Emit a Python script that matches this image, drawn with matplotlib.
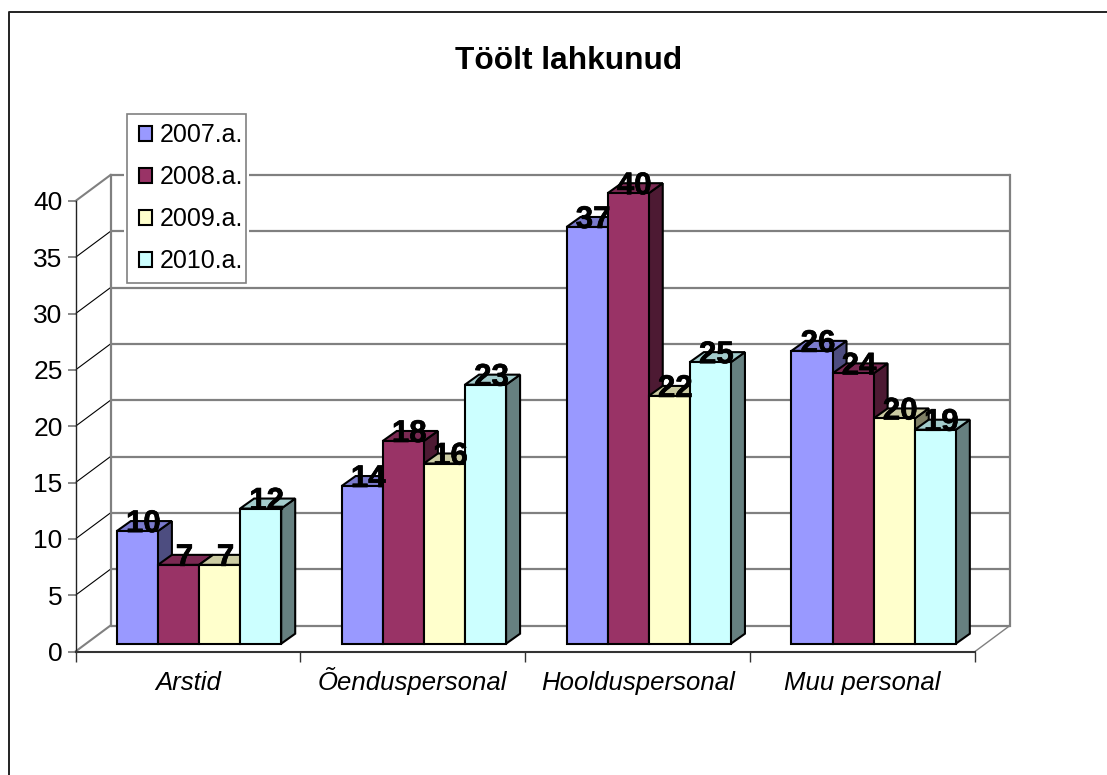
import matplotlib
matplotlib.use("Agg")
import matplotlib.pyplot as plt
import matplotlib.patheffects as pe
from matplotlib.patches import Patch, Polygon, Rectangle

plt.rcParams['font.family'] = ['Liberation Sans', 'DejaVu Sans']

categories = ["Arstid", "Õenduspersonal", "Hoolduspersonal", "Muu personal"]
series_names = ["2007.a.", "2008.a.", "2009.a.", "2010.a."]
v2007 = [10, 14, 37, 26]
v2008 = [7, 18, 40, 24]
v2009 = [7, 16, 22, 20]
v2010 = [12, 23, 25, 19]
y_ticks = [0, 5, 10, 15, 20, 25, 30, 35, 40]

front_cols = ["#9999FF", "#993366", "#FFFFCC", "#CCFFFF"]
top_cols = ["#7A7ACC", "#7A2952", "#CCCCA3", "#A3CCCC"]
side_cols = ["#4D4D80", "#4D1A33", "#808066", "#668080"]
series = [v2007, v2008, v2009, v2010]

W, H = 1107, 775
fig = plt.figure(figsize=(W / 100, H / 100), dpi=100)

# chart frame, only left and top are inside the picture
fig.add_artist(plt.Line2D([8.5 / W, 8.5 / W, 1], [0, 1 - 12 / H, 1 - 12 / H],
                          transform=fig.transFigure, color="#222222", lw=1.4))

# axes box = front edge of the 3d floor
x0, x1 = 75.5, 975
y0, y40 = 651.5, 201
ax = fig.add_axes([x0 / W, 1 - y0 / H, (x1 - x0) / W, (y0 - y40) / H])
ax.set_xlim(0, 4)
ax.set_ylim(0, 40)
ax.patch.set_visible(False)
for s in ["top", "right"]:
    ax.spines[s].set_visible(False)
ax.spines["left"].set_color("#222222")
ax.spines["left"].set_linewidth(1.0)
ax.spines["bottom"].set_color("#333333")
ax.spines["bottom"].set_linewidth(1.5)

cat_px = (x1 - x0) / 4
unit_px = (y0 - y40) / 40
wall_dx = 35 / cat_px
wall_dy = 26 / unit_px
bar_dx = 14 / cat_px
bar_dy = 10 / unit_px
bar_base = 7.8 / unit_px
bar_start = 41.3 / cat_px
bar_w = 41.1 / cat_px

grid = "#808080"
for t in y_ticks:
    # back wall line and the diagonal on the side wall
    ax.plot([wall_dx, 4 + wall_dx], [t + wall_dy, t + wall_dy], color=grid, lw=1.6,
            clip_on=False, zorder=1, solid_capstyle="butt")
    edge = t in (0, 40)
    ax.plot([0, wall_dx], [t, t + wall_dy], color=grid if edge else "black",
            lw=1.5 if edge else 0.8, clip_on=False, zorder=1)
ax.plot([wall_dx, wall_dx], [wall_dy, 40 + wall_dy], color=grid, lw=1.6, clip_on=False, zorder=1)
ax.plot([4 + wall_dx, 4 + wall_dx], [wall_dy, 40 + wall_dy], color=grid, lw=1.6, clip_on=False, zorder=1)
ax.plot([4, 4 + wall_dx], [0, wall_dy], color=grid, lw=1.0, clip_on=False, zorder=1)

z = 3
for i in range(len(categories)):
    for j, vals in enumerate(series):
        v = vals[i]
        left = i + bar_start + j * bar_w
        right = left + bar_w
        top = v + bar_base
        ax.add_patch(Polygon([(right, bar_base), (right + bar_dx, bar_base + bar_dy),
                              (right + bar_dx, top + bar_dy), (right, top)],
                             fc=side_cols[j], ec="black", lw=1.5, clip_on=False, zorder=z))
        ax.add_patch(Polygon([(left, top), (left + bar_dx, top + bar_dy),
                              (right + bar_dx, top + bar_dy), (right, top)],
                             fc=top_cols[j], ec="black", lw=1.5, clip_on=False, zorder=z))
        ax.bar(left, v, bar_w, bottom=bar_base, align="edge", color=front_cols[j],
               edgecolor="black", linewidth=1.5, clip_on=False, zorder=z + 0.5)
        z += 1

# value labels sit over every bar
for i in range(len(categories)):
    for j, vals in enumerate(series):
        v = vals[i]
        cx = i + bar_start + (j + 0.5) * bar_w + 6 / cat_px
        t = ax.text(cx, v + bar_base + 7 / unit_px, str(v), ha="center", va="center",
                    fontsize=22.5, fontweight="bold", color="black", zorder=200, clip_on=False)
        t.set_path_effects([pe.withStroke(linewidth=0.5, foreground="black")])

ax.set_yticks(y_ticks)
ax.set_xticks(range(5))
ax.set_xticklabels([])
ax.tick_params(axis="y", length=5.8, width=1.3, color="#808080", labelsize=19, pad=3.5)
ax.tick_params(axis="x", length=7, width=1.0, color="#333333")
for i, c in enumerate(categories):
    ax.annotate(c, (i + 0.5, 0), xytext=(0, -27.5), textcoords="offset points", ha="center",
                va="baseline", fontsize=18.5, style="italic", annotation_clip=False)

fig.text(569 / W, 1 - 61 / H, "Töölt lahkunud", ha="center", va="center", fontsize=22.8, fontweight="bold")

# legend box: white margin around it interrupts the gridlines
fig.add_artist(Rectangle((124 / W, 1 - 286 / H), 125 / W, 175 / H, transform=fig.transFigure,
                         fc="white", ec="none", zorder=5))
fig.add_artist(Rectangle((126.7 / W, 1 - 283.3 / H), 119.6 / W, 169.6 / H, transform=fig.transFigure,
                         fc="white", ec="#808080", lw=1.2, zorder=6))
handles = [Patch(fc=c, ec="black", lw=1.5) for c in front_cols]
leg = fig.legend(handles, series_names, loc="upper left", bbox_to_anchor=(138.5 / W, 1 - 123 / H),
                 borderaxespad=0, borderpad=0, frameon=False, fontsize=18,
                 handlelength=0.55, handleheight=0.55, handletextpad=0.3, labelspacing=0.72)
leg.set_zorder(250)

fig.savefig("out.png", dpi=100)
